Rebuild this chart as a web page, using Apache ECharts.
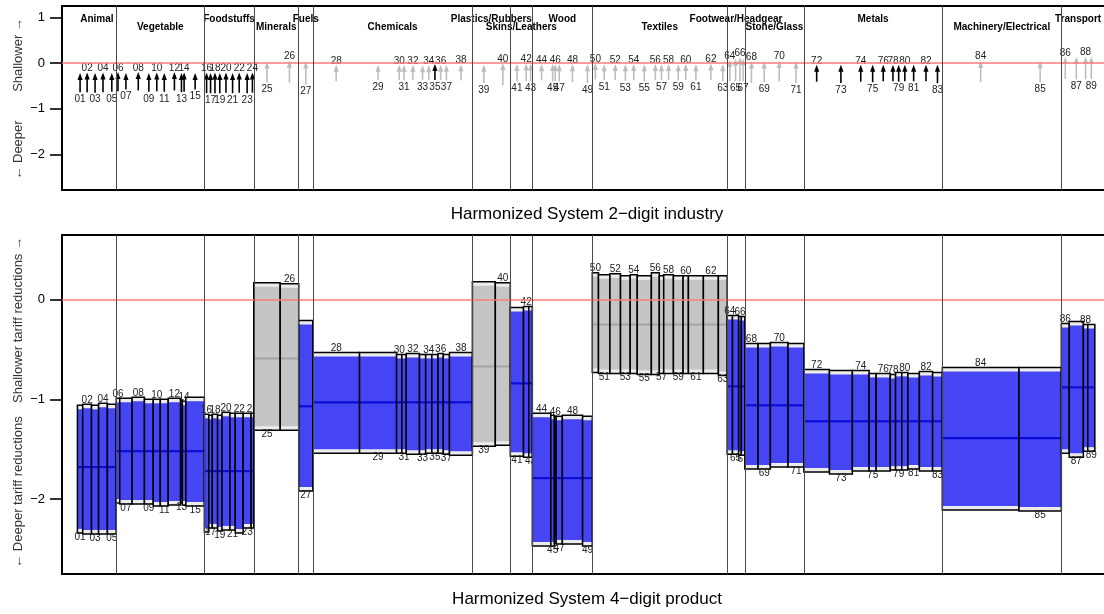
<!DOCTYPE html>
<html><head><meta charset="utf-8">
<script src="https://cdn.jsdelivr.net/npm/echarts@6/dist/echarts.min.js"></script>
<style>html,body{margin:0;padding:0;background:#fff}#c{width:1104px;height:614px}</style>
</head><body><div id="c"></div>
<script>
// ---------- DATA ----------
const chapters = ['01','02','03','04','05','06','07','08','09','10','11','12','13','14','15','16','17','18','19','20','21','22','23','24','25','26','27','28','29','30','31','32','33','34','35','36','37','38','39','40','41','42','43','44','45','46','47','48','49','50','51','52','53','54','55','56','57','58','59','60','61','62','63','64','65','66','67','68','69','70','71','72','73','74','75','76','78','79','80','81','82','83','84','85','86','87','88','89'];
// number of 4-digit headings in each chapter (width of each chapter on the product axis)
const headingCounts = [6,10,8,10,10, 4,14,14,10,8,9,14,2,4,21, 5,4,6,5,9,6,9,9,3, 30,21,16, 53,42,6,5,15,7,7,7,6,7,26, 26,17, 15,6,4, 21,4,2,7,23,11, 7,13,12,11,8,16,9,5,11,11,6,17,17,10, 6,7,3,4, 15,14,20,18, 29,26,19,8,16,6,7,7,13,15,11, 87,48, 9,16,5,8];

// top panel: 2-digit industry arrows
const industrySignificant = [1,1,1,1,1, 1,1,1,1,1,1,1,1,1,1, 1,1,1,1,1,1,1,1,1, 0,0,0, 0,0,0,0,0,0,0,1,0,0,0, 0,0, 0,0,0, 0,0,0,0,0,0, 0,0,0,0,0,0,0,0,0,0,0,0,0,0, 0,0,0,0, 0,0,0,0, 1,1,1,1,1,1,1,1,1,1,1, 0,0, 0,0,0,0];
const arrowLow = [-0.64,-0.64,-0.65,-0.64,-0.63, -0.62,-0.58,-0.60,-0.63,-0.62,-0.63,-0.60,-0.64,-0.63,-0.58, -0.66,-0.66,-0.66,-0.66,-0.65,-0.66,-0.65,-0.66,-0.65, -0.43,-0.43,-0.47, -0.40,-0.37,-0.37,-0.37,-0.37,-0.37,-0.37,-0.37,-0.37,-0.37,-0.38, -0.44,-0.48, -0.40,-0.40,-0.40, -0.38,-0.40,-0.40,-0.40,-0.42,-0.44, -0.36,-0.37,-0.37,-0.39,-0.37,-0.40,-0.37,-0.37,-0.37,-0.38,-0.37,-0.38,-0.37,-0.40, -0.40,-0.40,-0.40,-0.40, -0.44,-0.42,-0.40,-0.44, -0.41,-0.44,-0.41,-0.42,-0.40,-0.40,-0.41,-0.40,-0.40,-0.40,-0.44, -0.42,-0.43, -0.35,-0.36,-0.36,-0.35];
const arrowHigh = [-0.22,-0.21,-0.22,-0.21,-0.22, -0.20,-0.22,-0.20,-0.22,-0.21,-0.22,-0.20,-0.22,-0.21,-0.22, -0.21,-0.22,-0.21,-0.22,-0.21,-0.22,-0.21,-0.22,-0.21, 0.03,0.05,0.03, -0.04,-0.04,-0.04,-0.04,-0.04,-0.05,-0.05,-0.02,-0.04,-0.04,-0.03, -0.04,0.00, -0.02,-0.01,-0.01, -0.03,-0.02,-0.02,-0.03,-0.03,-0.03, 0.00,-0.03,-0.02,-0.03,-0.02,-0.03,-0.02,-0.03,-0.02,-0.03,-0.02,-0.03,-0.01,-0.03, 0.07,0.10,0.13,0.10, 0.03,0.03,0.05,0.03, -0.04,-0.04,-0.04,-0.04,-0.04,-0.04,-0.04,-0.04,-0.04,-0.04,-0.04, 0.05,0.05, 0.13,0.13,0.14,0.14];

// bottom panel: 4-digit product ranges per chapter
const productSignificant = [1,1,1,1,1, 1,1,1,1,1,1,1,1,1,1, 1,1,1,1,1,1,1,1,1, 0,0,1, 1,1,1,1,1,1,1,1,1,1,1, 0,0, 1,1,1, 1,1,1,1,1,1, 0,0,0,0,0,0,0,0,0,0,0,0,0,0, 1,1,1,1, 1,1,1,1, 1,1,1,1,1,1,1,1,1,1,1, 1,1, 1,1,1,1];
const boxHigh = [-1.06,-1.05,-1.06,-1.04,-1.05, -0.99,-0.99,-0.98,-1.00,-1.00,-1.00,-0.99,-1.01,-1.02,-0.98, -1.15,-1.16,-1.15,-1.16,-1.13,-1.14,-1.14,-1.14,-1.14, 0.17,0.16,-0.21, -0.53,-0.53,-0.55,-0.55,-0.54,-0.55,-0.55,-0.55,-0.54,-0.55,-0.53, 0.18,0.17, -0.08,-0.07,-0.07, -1.14,-1.16,-1.17,-1.17,-1.16,-1.17, 0.27,0.25,0.26,0.24,0.25,0.24,0.27,0.24,0.25,0.24,0.24,0.24,0.24,0.24, -0.16,-0.16,-0.17,-0.17, -0.44,-0.44,-0.43,-0.44, -0.70,-0.71,-0.71,-0.74,-0.74,-0.75,-0.73,-0.73,-0.74,-0.72,-0.73, -0.68,-0.68, -0.24,-0.22,-0.25,-0.25];
const boxLow = [-2.34,-2.35,-2.35,-2.35,-2.35, -2.04,-2.05,-2.05,-2.05,-2.07,-2.07,-2.06,-2.04,-2.06,-2.07, -2.33,-2.29,-2.29,-2.32,-2.31,-2.31,-2.34,-2.29,-2.29, -1.31,-1.31,-1.92, -1.54,-1.54,-1.54,-1.54,-1.55,-1.55,-1.54,-1.54,-1.54,-1.55,-1.56, -1.47,-1.46, -1.57,-1.58,-1.58, -2.47,-2.47,-2.44,-2.45,-2.45,-2.47, -0.73,-0.74,-0.74,-0.74,-0.74,-0.75,-0.75,-0.74,-0.74,-0.74,-0.74,-0.74,-0.74,-0.76, -1.55,-1.55,-1.56,-1.56, -1.70,-1.70,-1.68,-1.68, -1.73,-1.75,-1.72,-1.72,-1.72,-1.71,-1.71,-1.71,-1.70,-1.72,-1.72, -2.11,-2.12, -1.54,-1.58,-1.52,-1.52];

// sections
const sectionNames = ['Animal','Vegetable','Foodstuffs','Minerals','Fuels','Chemicals','Plastics/Rubbers','Skins/Leathers','Wood','Textiles','Footwear/Headgear','Stone/Glass','Metals','Machinery/Electrical','Transport'];
const sectionLastChapter = ['05','15','24','26','27','38','40','43','49','63','67','71','83','85','89'];
const sectionMean = [-1.68,-1.52,-1.72,-0.59,-1.07,-1.03,-0.67,-0.84,-1.79,-0.25,-0.87,-1.06,-1.22,-1.39,-0.88];

const yTicksTop = [1, 0, -1, -2];
const yTicksBottom = [0, -1, -2];

// ---------- derived ----------
const starts = [], ends = [];
let acc = 0;
headingCounts.forEach(n => { starts.push(acc); acc += n; ends.push(acc); });
const sectionOf = [];
let si = 0;
chapters.forEach((c, i) => { sectionOf.push(si); if (c === sectionLastChapter[si]) si++; });
const secStart = [], secEnd = [];
sectionNames.forEach((s, k) => {
  const idx = chapters.map((c, i) => i).filter(i => sectionOf[i] === k);
  secStart.push(starts[idx[0]]); secEnd.push(ends[idx[idx.length - 1]]);
});
const boundaries = secEnd.slice(0, -1);

const FONT = '"Liberation Sans", Arial, sans-serif';
const chart = echarts.init(document.getElementById('c'), null, {renderer: 'canvas'});
const minus = v => String(v).replace('-', '\u2212');

function yAxisCfg(idx, min, max, ticks) {
  return {
    type: 'value', gridIndex: idx, min: min, max: max,
    axisLine: {show: true, onZero: false, lineStyle: {color: '#000', width: 2}},
    splitLine: {show: false},
    axisTick: {show: true, length: 12, customValues: ticks, lineStyle: {color: '#000', width: 1.6}},
    axisLabel: {customValues: ticks, margin: 17, color: '#000', fontSize: 13, fontFamily: FONT, formatter: minus}
  };
}
function xAxisCfg(idx, pos) {
  return {type: 'value', gridIndex: idx, position: pos, min: -17.5, max: 1164.4,
    axisLine: {show: true, onZero: false, lineStyle: {color: '#000', width: 2}},
    axisTick: {show: false}, axisLabel: {show: false}, splitLine: {show: false}};
}

const boxData = chapters.map((c, i) => [starts[i], ends[i], boxLow[i], boxHigh[i], sectionMean[sectionOf[i]], productSignificant[i]]);
const arrowData = chapters.map((c, i) => [(starts[i] + ends[i]) / 2, arrowLow[i], arrowHigh[i], industrySignificant[i]]);
const sectionData = sectionNames.map((s, k) => [(secStart[k] + secEnd[k]) / 2, 0]);

function renderBox(params, api) {
  const i = params.dataIndex;
  const s = api.value(0), e = api.value(1), lo = api.value(2), hi = api.value(3), mean = api.value(4), sig = api.value(5);
  const p1 = api.coord([s, hi]), p2 = api.coord([e, lo]), pm = api.coord([s, mean]);
  const x = p1[0], w = p2[0] - p1[0], y = p1[1], h = p2[1] - p1[1];
  const inset = 4;
  const even = parseInt(chapters[i], 10) % 2 === 0;
  return {type: 'group', children: [
    {type: 'rect', shape: {x: x, y: y, width: w, height: h}, style: {fill: '#ececec'}},
    {type: 'rect', shape: {x: x, y: y + inset, width: w, height: h - 2 * inset}, style: {fill: sig ? '#4545f3' : '#c5c5c5'}},
    {type: 'line', shape: {x1: x, y1: pm[1], x2: x + w, y2: pm[1]}, style: {stroke: sig ? '#0c0cd8' : '#a6a6a6', lineWidth: 2.2}},
    {type: 'rect', shape: {x: x, y: y, width: w, height: h}, style: {fill: null, stroke: '#000', lineWidth: 1.5}},
    {type: 'text', x: x + w / 2, y: even ? y + 1 : y + h - 1,
      style: {text: chapters[i], fill: '#222', fontSize: 10, fontFamily: FONT, align: 'center', verticalAlign: even ? 'bottom' : 'top'}}
  ]};
}
function renderArrow(params, api) {
  const i = params.dataIndex;
  const cx = api.value(0), lo = api.value(1), hi = api.value(2), sig = api.value(3);
  const pLo = api.coord([cx, lo]), pHi = api.coord([cx, hi]);
  const col = sig ? '#000' : '#bdbdbd';
  const even = parseInt(chapters[i], 10) % 2 === 0;
  const x = pLo[0];
  return {type: 'group', children: [
    {type: 'line', shape: {x1: x, y1: pLo[1], x2: x, y2: pHi[1] + 4}, style: {stroke: col, lineWidth: 1.6}},
    {type: 'polygon', shape: {points: [[x, pHi[1]], [x - 2.6, pHi[1] + 7], [x + 2.6, pHi[1] + 7]]}, style: {fill: col}},
    {type: 'text', x: x, y: even ? pHi[1] + 1 : pLo[1] + 2,
      style: {text: chapters[i], fill: '#222', fontSize: 10, fontFamily: FONT, align: 'center', verticalAlign: even ? 'bottom' : 'top'}}
  ]};
}
function renderSection(params, api) {
  const k = params.dataIndex;
  const p = api.coord([api.value(0), 0]);
  const top = params.coordSys.y;
  return {type: 'text', x: p[0], y: top + (k % 2 === 0 ? 13 : 21),
    style: {text: sectionNames[k], fill: '#000', fontSize: 10, fontWeight: 'bold', fontFamily: FONT, align: 'center', verticalAlign: 'middle'}};
}

const vLines = boundaries.map(b => ({xAxis: b}));
function refLines(idx) {
  return {
    type: 'line', xAxisIndex: idx * 2, yAxisIndex: idx, data: [], silent: true, z: 1,
    markLine: {silent: true, symbol: 'none', label: {show: false}, animation: false,
      data: [{yAxis: 0, lineStyle: {color: '#ff7a7a', width: 1.5, type: 'solid'}}].concat(
        vLines.map(v => Object.assign({lineStyle: {color: '#4a4a4a', width: 1, type: 'solid'}}, v)))}
  };
}

const option = {
  animation: false,
  backgroundColor: '#fff',
  grid: [
    {left: 62, top: 6, right: 0, height: 184},
    {left: 62, top: 235, right: 0, height: 339}
  ],
  xAxis: [xAxisCfg(0, 'bottom'), xAxisCfg(0, 'top'), xAxisCfg(1, 'bottom'), xAxisCfg(1, 'top')],
  yAxis: [yAxisCfg(0, -2.78, 1.247, yTicksTop), yAxisCfg(1, -2.752, 0.648, yTicksBottom)],
  series: [
    refLines(0), refLines(1),
    {type: 'custom', xAxisIndex: 2, yAxisIndex: 1, data: boxData, renderItem: renderBox, encode: {x: [0, 1], y: [2, 3]}, z: 3, clip: false},
    {type: 'custom', xAxisIndex: 0, yAxisIndex: 0, data: arrowData, renderItem: renderArrow, encode: {x: 0, y: [1, 2]}, z: 3, clip: false},
    {type: 'custom', xAxisIndex: 0, yAxisIndex: 0, data: sectionData, renderItem: renderSection, encode: {x: 0, y: 1}, z: 4, clip: false}
  ],
  graphic: [
    {type: 'text', x: 587, y: 214, style: {text: 'Harmonized System 2\u2212digit industry', fill: '#000', fontSize: 17, fontFamily: FONT, align: 'center', verticalAlign: 'middle'}},
    {type: 'text', x: 587, y: 599, style: {text: 'Harmonized System 4\u2212digit product', fill: '#000', fontSize: 17, fontFamily: FONT, align: 'center', verticalAlign: 'middle'}},
    {type: 'text', x: 18, y: 55, rotation: Math.PI / 2, style: {text: 'Shallower \u2192', fill: '#333', fontSize: 13, fontFamily: FONT, align: 'center', verticalAlign: 'middle'}},
    {type: 'text', x: 18, y: 150, rotation: Math.PI / 2, style: {text: '\u2190 Deeper', fill: '#333', fontSize: 13, fontFamily: FONT, align: 'center', verticalAlign: 'middle'}},
    {type: 'text', x: 18, y: 320, rotation: Math.PI / 2, style: {text: 'Shallower tariff reductions \u2192', fill: '#333', fontSize: 13, fontFamily: FONT, align: 'center', verticalAlign: 'middle'}},
    {type: 'text', x: 18, y: 492, rotation: Math.PI / 2, style: {text: '\u2190 Deeper tariff reductions', fill: '#333', fontSize: 13, fontFamily: FONT, align: 'center', verticalAlign: 'middle'}}
  ]
};
chart.setOption(option);
</script>
</body></html>
